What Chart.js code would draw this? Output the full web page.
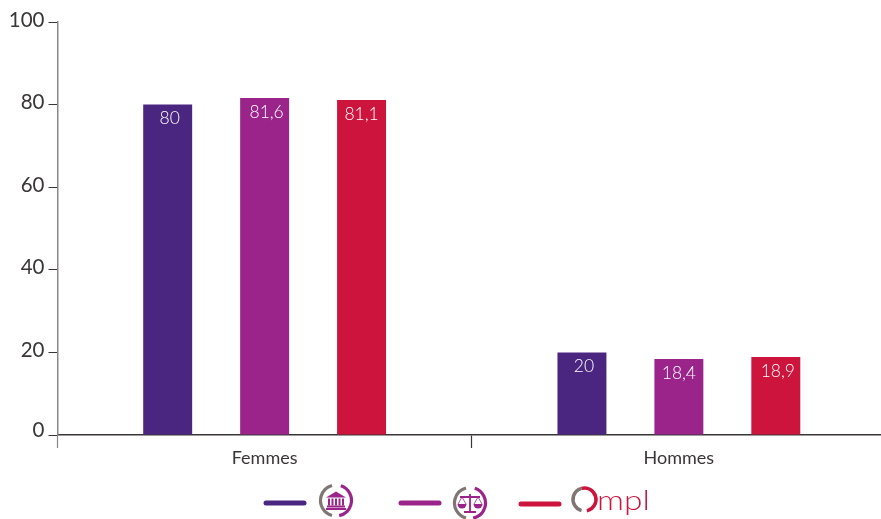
<!DOCTYPE html>
<html><head><meta charset="utf-8">
<style>html,body{margin:0;padding:0;background:#fff;overflow:hidden;width:881px;height:519px}
#w{position:relative;width:881px;height:519px;overflow:hidden}
canvas{position:absolute;left:0;top:0}</style>
<script src="https://cdn.jsdelivr.net/npm/chart.js@4"></script>
</head><body><div id="w"><canvas id="c" width="900" height="519" style="width:900px;height:519px"></canvas></div>
<script>
const categories = ['Femmes', 'Hommes'];
const seriesA = [80, 20];
const seriesB = [81.6, 18.4];
const seriesC = [81.1, 18.9];
const valueLabelsA = ['80', '20'];
const valueLabelsB = ['81,6', '18,4'];
const valueLabelsC = ['81,1', '18,9'];
const colors = ['#4a2681', '#9b248a', '#cd143c'];
const FONT = 'Lato';

function ring(ctx, cx, cy, r, w, col, a0 = -72) {
  ctx.lineWidth = w; ctx.lineCap = 'butt';
  ctx.strokeStyle = '#7f7674';
  ctx.beginPath(); ctx.arc(cx, cy, r, 105 * Math.PI / 180, 255 * Math.PI / 180); ctx.stroke();
  ctx.strokeStyle = col;
  ctx.beginPath(); ctx.arc(cx, cy, r, a0 * Math.PI / 180, 78 * Math.PI / 180); ctx.stroke();
}
function legendLine(ctx, x0, x1, y, col) {
  ctx.strokeStyle = col; ctx.lineWidth = 5; ctx.lineCap = 'round';
  ctx.beginPath(); ctx.moveTo(x0 + 2, y); ctx.lineTo(x1 - 2, y); ctx.stroke();
}
function bank(ctx, cx, cy, col) {
  ctx.fillStyle = col;
  ctx.beginPath(); ctx.moveTo(cx, cy - 9); ctx.lineTo(cx + 10, cy - 3); ctx.lineTo(cx - 10, cy - 3); ctx.closePath(); ctx.fill();
  for (const dx of [-7, -3.5, 0, 3.5, 7]) ctx.fillRect(cx + dx - 1, cy - 2, 2, 7);
  ctx.fillRect(cx - 9, cy + 5, 18, 2);
  ctx.fillRect(cx - 10, cy + 7.5, 20, 2);
}
function scales(ctx, cx, cy, col) {
  ctx.strokeStyle = col; ctx.fillStyle = col; ctx.lineWidth = 1.8; ctx.lineCap = 'butt';
  ctx.beginPath(); ctx.moveTo(cx, cy - 9); ctx.lineTo(cx, cy + 9); ctx.moveTo(cx - 10, cy - 6); ctx.lineTo(cx + 10, cy - 6); ctx.stroke();
  ctx.fillRect(cx - 6, cy + 8, 12, 2);
  for (const s of [-1, 1]) {
    const px = cx + s * 8;
    ctx.lineWidth = 0.8;
    ctx.beginPath(); ctx.moveTo(px, cy - 6); ctx.lineTo(px - 4, cy + 1); ctx.moveTo(px, cy - 6); ctx.lineTo(px + 4, cy + 1); ctx.stroke();
    ctx.beginPath(); ctx.arc(px, cy + 1, 4.5, 0, Math.PI); ctx.closePath(); ctx.fill();
  }
}

const overlay = {
  id: 'overlay',
  beforeDraw(chart) {
    for (const it of chart.scales.y.getLabelItems()) {
      if (it.label === '0' && !it.moved) { it.options.translation[1] -= 3; it.moved = true; }
    }
  },
  afterDatasetsDraw(chart) {
    const ctx = chart.ctx;
    ctx.save();
    ctx.font = '300 17.5px ' + FONT; ctx.fillStyle = '#ffffff';
    ctx.textAlign = 'center'; ctx.textBaseline = 'middle';
    chart.data.datasets.forEach((ds, i) => {
      chart.getDatasetMeta(i).data.forEach((bar, j) => {
        ctx.fillText(ds.valueLabels[j], bar.x + ds.labelDx[j], bar.y + 14);
      });
    });
    ctx.restore();
  },
  afterDraw(chart) {
    const ctx = chart.ctx;
    ctx.save();
    legendLine(ctx, 264, 306, 503, colors[0]);
    ring(ctx, 336, 500.5, 15.5, 3.2, colors[1]);
    bank(ctx, 336, 500.5, colors[1]);
    legendLine(ctx, 399, 441, 503, colors[1]);
    ring(ctx, 470, 503, 15.5, 3.2, colors[1]);
    scales(ctx, 470, 503, colors[1]);
    legendLine(ctx, 519, 561, 504, colors[2]);
    ring(ctx, 584.5, 499.5, 11.5, 3.5, colors[2], -105);
    ctx.fillStyle = colors[2];
    ctx.font = '300 27px ' + FONT;
    ctx.textAlign = 'left'; ctx.textBaseline = 'alphabetic';
    ctx.translate(597, 510);
    ctx.scale(1.24, 1);
    ctx.fillText('mpl', 0, 0);
    ctx.restore();
  }
};

new Chart(document.getElementById('c'), {
  type: 'bar',
  data: {
    labels: categories,
    datasets: [
      { data: seriesA, backgroundColor: colors[0], valueLabels: valueLabelsA, labelDx: [2, 2] },
      { data: seriesB, backgroundColor: colors[1], valueLabels: valueLabelsB, labelDx: [2, 0] },
      { data: seriesC, backgroundColor: colors[2], valueLabels: valueLabelsC, labelDx: [0, 2] }
    ]
  },
  options: {
    responsive: false,
    animation: false,
    devicePixelRatio: 1,
    categoryPercentage: 0.702,
    barPercentage: 0.505,
    layout: { padding: { left: 0, right: 14, top: 22, bottom: 53 } },
    plugins: { legend: { display: false }, tooltip: { enabled: false } },
    scales: {
      x: {
        offset: true,
        afterFit(s) { s.height = 31; },
        border: { color: '#3a3536', width: 1.5 },
        grid: {
          drawOnChartArea: false, drawTicks: true, tickLength: 13, offset: true,
          tickColor: c => c.index === 0 ? '#8a8586' : '#3a3536', tickWidth: 1.2
        },
        ticks: { color: '#3a3536', padding: -1, maxRotation: 0, font: { family: FONT, size: 18, weight: '400' } }
      },
      y: {
        min: 0, max: 100,
        afterFit(s) { s.width = 57.5; },
        border: { color: '#8a8586', width: 1.5 },
        grid: { drawOnChartArea: false, tickLength: 9, tickColor: '#3a3536', tickWidth: 1 },
        ticks: { stepSize: 20, color: '#3a3536', padding: 4, labelOffset: -2, font: { family: FONT, size: 20.5, weight: '400' } }
      }
    }
  },
  plugins: [overlay]
});
</script></body></html>
